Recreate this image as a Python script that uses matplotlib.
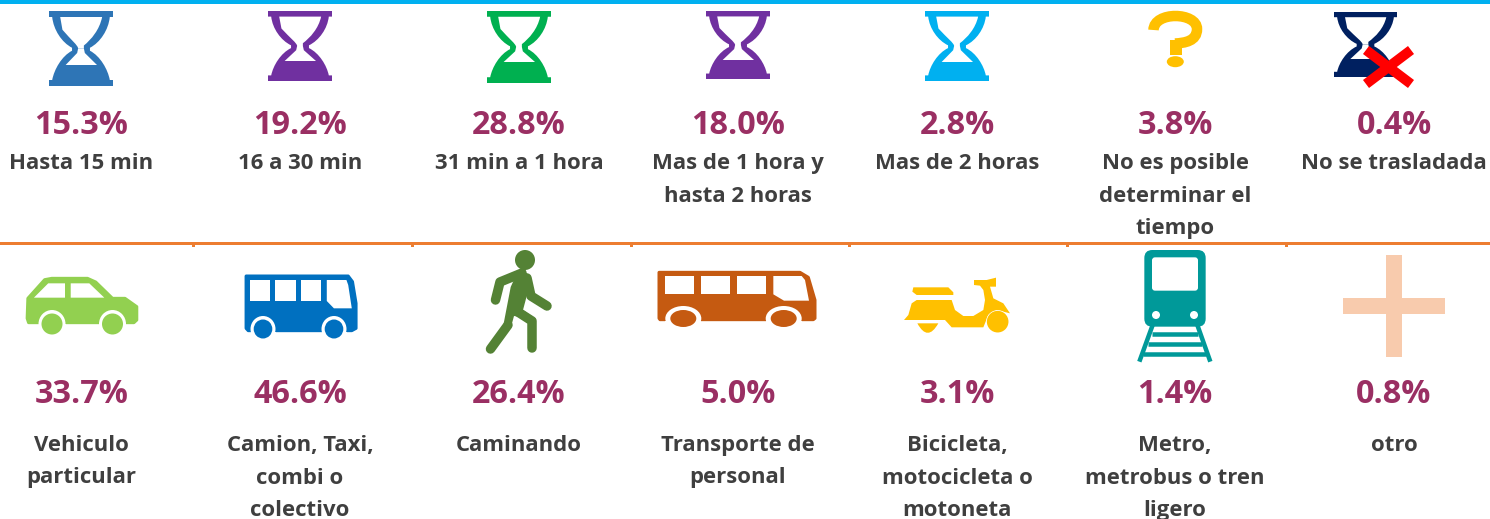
import matplotlib
matplotlib.use("Agg")
import matplotlib.pyplot as plt
from matplotlib.patches import Polygon, Ellipse, Rectangle, PathPatch, FancyBboxPatch
from matplotlib.path import Path

plt.rcParams['font.family'] = ['Open Sans', 'DejaVu Sans']

# Data
time_values = [15.3, 19.2, 28.8, 18.0, 2.8, 3.8, 0.4]
time_labels = ['Hasta 15 min', '16 a 30 min', '31 min a 1 hora', 'Mas de 1 hora y\nhasta 2 horas',
               'Mas de 2 horas', 'No es posible\ndeterminar el\ntiempo', 'No se trasladada']
mode_values = [33.7, 46.6, 26.4, 5.0, 3.1, 1.4, 0.8]
mode_labels = ['Vehiculo\nparticular', 'Camion, Taxi,\ncombi o\ncolectivo', 'Caminando',
               'Transporte de\npersonal', 'Bicicleta,\nmotocicleta o\nmotoneta',
               'Metro,\nmetrobus o tren\nligero', 'otro']

centers = [81.5, 300, 519, 738, 957, 1175, 1394]
PCT = '#9A2F63'
TXT = '#3F3F3F'

fig = plt.figure(figsize=(14.9, 5.19), dpi=100)
ax = fig.add_axes([0, 0, 1, 1])
ax.set_xlim(0, 1490)
ax.set_ylim(519, 0)
ax.axis('off')


def px(v):
    return v * 0.72


def crop(pts, x0, y0, sx=3.0):
    return [(x0 + a / sx, y0 + b / 3.0) for a, b in pts]


def poly(pts, color, round_lw=0, z=3):
    ax.add_patch(Polygon(pts, closed=True, fc=color, ec=color if round_lw else 'none',
                         lw=px(round_lw), joinstyle='round', zorder=z))


def ell(x, y, rx, ry, color, z=3):
    ax.add_patch(Ellipse((x, y), 2 * rx, 2 * ry, fc=color, ec='none', zorder=z))


def hourglass(x0, x1, y0, y1, sand_y, color):
    w = x1 - x0
    h = y1 - y0
    sand = (sand_y - y0) / h

    def P(u, v):
        return (x0 + u * w, y0 + v * h)
    outer = [P(0, 0), P(1, 0), P(1, .08), P(.95, .08),
             P(.93, .25), P(.80, .42), P(.64, .49), P(.64, .53),
             P(.80, .60), P(.92, .78), P(.95, .92), P(1, .92), P(1, 1), P(0, 1), P(0, .92), P(.05, .92),
             P(.08, .78), P(.20, .60), P(.36, .53), P(.36, .49), P(.20, .42), P(.07, .25), P(.05, .08), P(0, .08)]
    codes = [Path.MOVETO, Path.LINETO, Path.LINETO, Path.LINETO,
             Path.CURVE4, Path.CURVE4, Path.CURVE4, Path.LINETO,
             Path.CURVE4, Path.CURVE4, Path.CURVE4, Path.LINETO, Path.LINETO, Path.LINETO, Path.LINETO, Path.LINETO,
             Path.CURVE4, Path.CURVE4, Path.CURVE4, Path.LINETO, Path.CURVE4, Path.CURVE4, Path.CURVE4, Path.LINETO]
    ax.add_patch(PathPatch(Path(outer, codes), fc=color, ec='none', zorder=3))
    # white inside of the glass
    top = [P(.175, .08), P(.83, .08), P(.79, .25), P(.66, .38), P(.545, .46), P(.545, .50)]
    top_codes = [Path.MOVETO, Path.LINETO, Path.CURVE4, Path.CURVE4, Path.CURVE4, Path.LINETO]
    low = [P(.455, .50), P(.455, .46), P(.34, .38), P(.21, .25), P(.175, .08)]
    low_codes = [Path.LINETO, Path.CURVE4, Path.CURVE4, Path.CURVE4, Path.LINETO]
    ax.add_patch(PathPatch(Path(top + low, top_codes + low_codes), fc='white', ec='none', zorder=4))
    poly([P(.455, .50), P(.545, .50), P(.56, .56), P(.75, sand), P(.26, sand), P(.44, .56)], 'white', z=4)


# separators
ax.add_patch(Rectangle((0, 0), 1490, 4, fc='#00B0F0', ec='none'))
ax.add_patch(Rectangle((0, 242), 1490, 3.2, fc='#ED7D31', ec='none'))
for tx in [193, 412, 631, 849, 1067, 1286]:
    ax.add_patch(Rectangle((tx - 1.5, 245), 3, 1.5, fc='#ED7D31', ec='none'))

# hourglasses
hourglass(49, 113, 11, 86, 65, '#2E75B6')
hourglass(268, 332, 11, 81, 61, '#7030A0')
hourglass(487, 551, 11, 83, 62, '#00B050')
hourglass(706, 770, 11, 79, 60, '#7030A0')
hourglass(925, 989, 11, 81, 62, '#00B0F0')
hourglass(1334, 1397, 12, 77, 59, '#002060')

# question mark
qm = Path([(1153.5, 30), (1154, 11), (1197, 12), (1197, 29), (1197, 41), (1185, 43), (1175, 43.5)],
          [Path.MOVETO, Path.CURVE4, Path.CURVE4, Path.CURVE4, Path.CURVE4, Path.CURVE4, Path.CURVE4])
ax.add_patch(PathPatch(qm, fc='none', ec='#FFC000', lw=px(10.5), capstyle='butt', zorder=3))
ax.add_patch(Rectangle((1169.5, 40), 12, 15, fc='#FFC000', ec='none', zorder=3))
ell(1175.3, 61.7, 8.5, 5.5, '#FFC000')

# red cross
ax.plot([1366, 1411], [50, 84], color='#FF0000', lw=px(10), solid_capstyle='butt', zorder=5)
ax.plot([1411, 1366], [50, 84], color='#FF0000', lw=px(10), solid_capstyle='butt', zorder=5)

# car
c = '#92D050'
poly(crop([(78, 190), (125, 134), (145, 130), (245, 130), (268, 141), (315, 190), (350, 190), (383, 215),
           (383, 255), (375, 263), (80, 263), (76, 250)], 0, 235, 2.8), c, 3)
poly(crop([(95, 188), (135, 145), (182, 145), (182, 188)], 0, 235, 2.8), 'white', z=4)
poly(crop([(198, 145), (250, 145), (292, 188), (198, 188)], 0, 235, 2.8), 'white', z=4)
for wx in [52, 112.5]:
    ell(wx, 324, 13.5, 14, 'white', 4)
    ax.add_patch(Rectangle((wx - 13.5, 324), 27, 12, fc='white', ec='none', zorder=4))
    ell(wx, 324, 10.5, 10.5, c, 5)

# city bus
c = '#0070C0'
poly(crop([(689, 123), (975, 123), (987, 140), (997, 205), (997, 280), (985, 287), (695, 287), (689, 280)],
          0, 235, 2.8), c, 3)
for a, b in [(700, 757), (771, 828), (843, 900)]:
    poly(crop([(a, 135), (b, 135), (b, 197), (a, 197)], 0, 235, 2.8), 'white', z=4)
poly(crop([(915, 135), (970, 135), (975, 150), (985, 220), (935, 220), (915, 198)], 0, 235, 2.8), 'white', z=4)
for wx in [263, 334]:
    ell(wx, 329, 12.5, 13, 'white', 4)
    ax.add_patch(Rectangle((wx - 12.5, 331.7), 25, 8, fc='white', ec='none', zorder=4))
    ell(wx, 329, 9.3, 9.5, c, 5)

# walker
c = '#548235'
ell(525, 260, 10, 10, c)
poly([(510.7, 287), (517, 273), (527, 273), (530, 280), (527, 295), (523, 310), (536, 319), (514, 316), (511, 327),
      (503, 327)], c)
for xs, ys in [([522, 500, 495.5], [273, 282, 300]), ([527, 531, 547], [278, 296, 306]),
               ([518, 532, 532], [312, 321, 348]), ([508, 490.5], [325, 349])]:
    ax.plot(xs, ys, color=c, lw=px(9.5), solid_capstyle='round', solid_joinstyle='round', zorder=3)

# staff bus
c = '#C55A11'
poly(crop([(87, 112), (510, 112), (535, 127), (555, 195), (555, 250), (550, 254), (90, 254), (87, 250)],
          630, 235), c, 3)
for a, b in [(105, 192), (213, 300), (321, 407)]:
    poly(crop([(a, 123), (b, 123), (b, 177), (a, 177)], 630, 235), 'white', z=4)
poly(crop([(430, 123), (515, 123), (525, 135), (537, 197), (462, 197), (430, 178)], 630, 235), 'white', z=4)
for wx in [683.3, 783.7]:
    ell(wx, 318.5, 18, 12.5, 'white', 4)
    ax.add_patch(Rectangle((wx - 18, 320.5), 36, 8, fc='white', ec='none', zorder=4))
    ell(wx, 318.5, 13, 8.5, c, 5)

# scooter
c = '#FFC000'
poly(crop([(850, 157), (955, 157), (970, 172), (970, 180), (860, 180), (847, 170)], 630, 235), c)
poly(crop([(822, 255), (835, 240), (845, 205), (860, 195), (965, 195), (975, 225), (1000, 243), (1030, 243),
           (1060, 225), (1065, 195), (1060, 165), (1050, 152), (1032, 150), (1032, 135), (1070, 135), (1098, 128),
           (1098, 155), (1080, 155), (1090, 190), (1120, 205), (1140, 235), (1100, 225), (1075, 240), (1060, 277),
           (965, 277), (945, 255)], 630, 235), c)
ell(630 + 1103 / 3, 235 + 260 / 3, 11.5, 11.5, 'white', 4)
ell(630 + 1103 / 3, 235 + 260 / 3, 10.8, 10.8, c, 5)
ax.add_patch(PathPatch(Path(crop([(862, 265), (893, 322), (925, 265)], 630, 235),
                            [Path.MOVETO, Path.CURVE3, Path.CURVE3]), fc=c, ec='none', zorder=3))

# train
c = '#009999'
x0, y0 = 1110, 235
a, b = crop([(103, 45)], x0, y0)[0], crop([(287, 275)], x0, y0)[0]
ax.add_patch(FancyBboxPatch((a[0] + 6, a[1] + 6), b[0] - a[0] - 12, b[1] - a[1] - 12,
                            boxstyle='round,pad=6,rounding_size=8', fc=c, ec='none', zorder=3))
a, b = crop([(126, 67)], x0, y0)[0], crop([(264, 167)], x0, y0)[0]
ax.add_patch(FancyBboxPatch((a[0] + 2, a[1] + 2), b[0] - a[0] - 4, b[1] - a[1] - 4,
                            boxstyle='round,pad=2,rounding_size=3', fc='white', ec='none', zorder=4))
for lx, ly in crop([(138, 240), (252, 240)], x0, y0):
    ell(lx, ly, 4, 4, 'white', 4)
for p, q in [((128, 270), (88, 380)), ((262, 270), (301, 380))]:
    (x1, y1), (x2, y2) = crop([p, q], x0, y0)
    ax.plot([x1, x2], [y1, y2], color=c, lw=px(4.5), solid_capstyle='butt', zorder=3)
for sy, s0, s1 in [(297, 125, 265), (327, 115, 275), (358, 100, 288)]:
    (x1, y1), (x2, y2) = crop([(s0, sy), (s1, sy)], x0, y0)
    ax.plot([x1, x2], [y1, y2], color=c, lw=px(4.5), solid_capstyle='butt', zorder=3)

# plus
ax.add_patch(Rectangle((1386, 255), 16, 102, fc='#F8CBAD', ec='none'))
ax.add_patch(Rectangle((1343, 298), 102, 16, fc='#F8CBAD', ec='none'))

# texts
for cx, v, lab in zip(centers, time_values, time_labels):
    ax.text(cx, 125.5, f'{v:.1f}%', ha='center', va='center', fontsize=23.3, fontweight='bold', color=PCT)
    for i, line in enumerate(lab.split('\n')):
        ax.text(cx, 163.5 + i * 32.5, line, ha='center', va='center', fontsize=15.9, fontweight='bold', color=TXT)

for cx, v, lab in zip(centers, mode_values, mode_labels):
    ax.text(cx, 394.5, f'{v:.1f}%', ha='center', va='center', fontsize=23.3, fontweight='bold', color=PCT)
    for i, line in enumerate(lab.split('\n')):
        ax.text(cx, 445.5 + i * 32.5, line, ha='center', va='center', fontsize=15.9, fontweight='bold', color=TXT)

fig.savefig('out.png', dpi=100)
